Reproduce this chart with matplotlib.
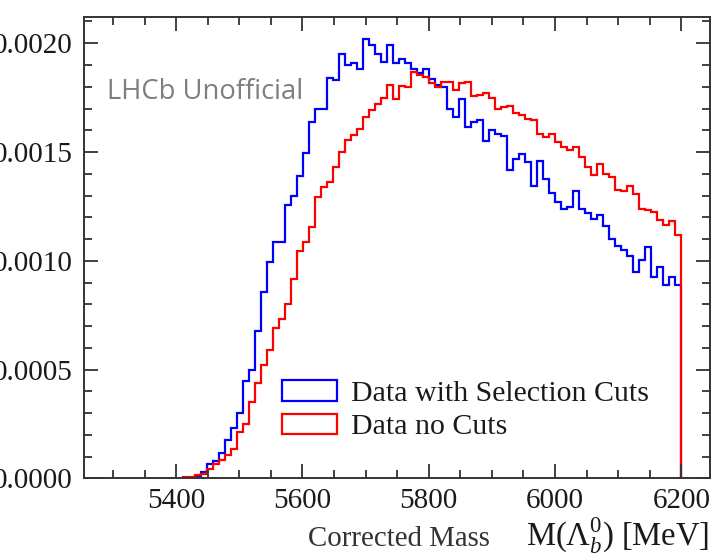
import numpy as np
import matplotlib
matplotlib.use("Agg")
import matplotlib.pyplot as plt
from matplotlib.patches import Patch
from matplotlib.ticker import MultipleLocator, FormatStrFormatter

# histogram binning: 100 bins of 9.5 MeV between 5250 and 6200
bin_lo = 5250
bin_hi = 6200
n_bins = 100

# normalised entries per bin
sel_cuts = [0]*19 + [
    0.00001, 0.00003, 0.000064, 0.00008, 0.000116, 0.000175, 0.00023, 0.0003,
    0.000446, 0.000497, 0.000678, 0.000857, 0.000995, 0.001085, 0.001085,
    0.001256, 0.0013, 0.00139, 0.001495, 0.001637, 0.0017, 0.0017, 0.00184,
    0.00183, 0.00195, 0.0019, 0.00191, 0.00188, 0.00202, 0.00199, 0.00195,
    0.001915, 0.00199, 0.001907, 0.001926, 0.001907, 0.00188, 0.001864,
    0.00188, 0.001834, 0.001808, 0.001797, 0.001696, 0.001662, 0.001742,
    0.001613, 0.001639, 0.001647, 0.001552, 0.001601, 0.001585, 0.001573,
    0.001417, 0.00147, 0.00149, 0.001455, 0.001343, 0.00146, 0.001374,
    0.001313, 0.00127, 0.00124, 0.001248, 0.00132, 0.00124, 0.00122,
    0.00119, 0.00121, 0.00116, 0.0011, 0.00107, 0.00105, 0.00102, 0.00095,
    0.001003, 0.001064, 0.000926, 0.000972, 0.000888, 0.000926, 0.000888]

no_cuts = [0]*17 + [
    0.000004, 0.000008, 0.000013, 0.00002, 0.000045, 0.000064, 0.000083,
    0.000106, 0.000133, 0.000213, 0.000248, 0.00035, 0.00044, 0.00052,
    0.00059, 0.00069, 0.000734, 0.000803, 0.000918, 0.001046, 0.001088,
    0.001157, 0.001294, 0.00134, 0.001363, 0.00143, 0.0015, 0.001555,
    0.00158, 0.001606, 0.00166, 0.001695, 0.00172, 0.001746, 0.001808,
    0.001742, 0.001803, 0.001797, 0.001869, 0.001854, 0.001846, 0.001818,
    0.001797, 0.001823, 0.001823, 0.001787, 0.001818, 0.001823, 0.001757,
    0.001761, 0.001769, 0.001746, 0.0017, 0.001707, 0.001713, 0.00168,
    0.00167, 0.001654, 0.001647, 0.001585, 0.00157, 0.001585, 0.001547,
    0.001524, 0.001509, 0.001524, 0.001478, 0.001432, 0.001394, 0.001447,
    0.0014, 0.001386, 0.001325, 0.001322, 0.001343, 0.001309, 0.00124,
    0.001233, 0.001225, 0.001187, 0.001164, 0.001184, 0.001118]

labels = ["Data with Selection Cuts", "Data no Cuts"]
colors = ["#0000ff", "#ff0000"]

x_ticks = [5400, 5600, 5800, 6000, 6200]
y_ticks = [0.0, 0.0005, 0.0010, 0.0015, 0.0020]

# ----------------------------------------------------------------
plt.rcParams["font.family"] = ["Liberation Serif", "DejaVu Serif"]
plt.rcParams["mathtext.fontset"] = "custom"
plt.rcParams["mathtext.rm"] = "Liberation Serif"
plt.rcParams["mathtext.it"] = "Liberation Serif:italic"

edges = np.linspace(bin_lo, bin_hi, n_bins + 1)

fig = plt.figure(figsize=(7.17, 5.55), dpi=100)
ax = fig.add_axes([0.1172, 0.1382, 0.8735, 0.8317])

for vals, col in zip([sel_cuts, no_cuts], colors):
    vals = np.asarray(vals, dtype=float)
    first = np.nonzero(vals)[0][0]
    ax.stairs(vals[first:], edges[first:], color=col, lw=1.6, baseline=0)

ax.set_xlim(5254, 6246)
ax.set_ylim(0, 0.002122)

ax.set_xticks(x_ticks)
ax.set_yticks(y_ticks)
ax.xaxis.set_minor_locator(MultipleLocator(50))
ax.yaxis.set_minor_locator(MultipleLocator(0.0001))
ax.yaxis.set_major_formatter(FormatStrFormatter("%.4f"))

axis_col = "#333333"
for sp in ax.spines.values():
    sp.set_color(axis_col)
    sp.set_linewidth(1.4)
ax.tick_params(which="both", direction="in", top=True, right=True,
               color=axis_col, width=1.3, labelsize=21, labelcolor="#1a1a1a")
ax.tick_params(which="major", length=10)
ax.tick_params(which="minor", length=5.5)
ax.tick_params(axis="x", pad=7)
ax.tick_params(axis="y", pad=8)

# legend with box-shaped handles
handles = [Patch(facecolor="none", edgecolor=c, lw=1.6) for c in colors]
ax.legend(handles, labels, loc="upper left", bbox_to_anchor=(0.316, 0.212),
          frameon=False, fontsize=21.5, handlelength=1.85, handleheight=0.68,
          handletextpad=0.45, labelspacing=0.22, borderpad=0.0,
          borderaxespad=0.0, labelcolor="#1a1a1a")

ax.text(0.037, 0.836, "LHCb Unofficial", transform=ax.transAxes,
        fontsize=19.7, color="#7f7f7f", family="Open Sans", va="center")

fig.text(0.429, 0.016, "Corrected Mass", fontsize=20.8, color="#333333",
         ha="left", va="baseline")
fig.text(0.989, 0.016, r"M($\Lambda_{b}^{0}$) [MeV]", fontsize=23.5,
         color="#1a1a1a", ha="right", va="baseline")

fig.savefig("out.png", dpi=100)
